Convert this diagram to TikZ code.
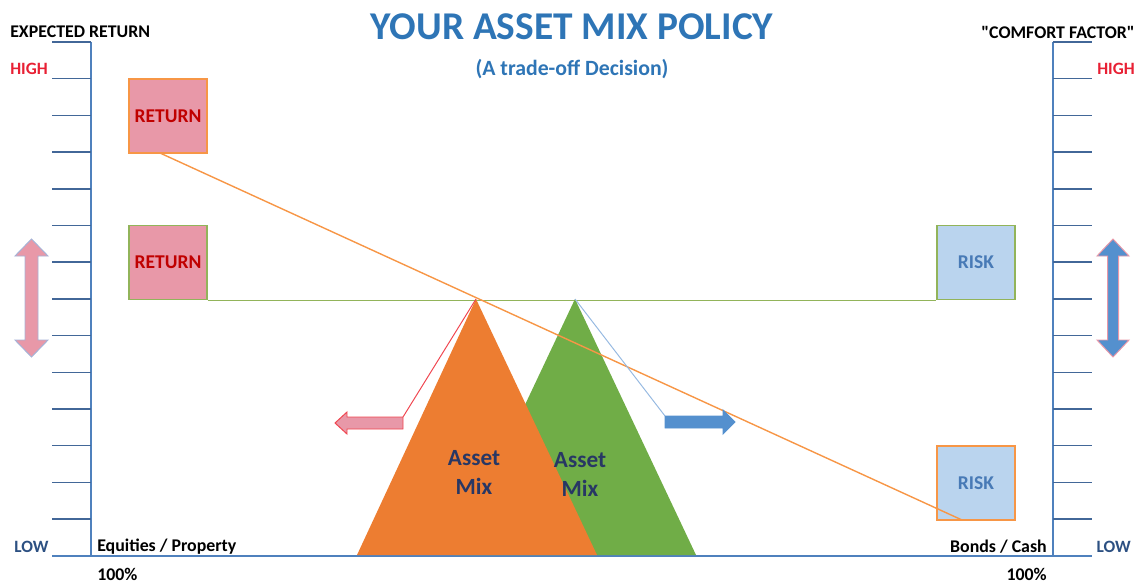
\documentclass[tikz,border=0pt]{standalone}
\usepackage{fontspec}
\setmainfont[Ligatures=TeXOff]{Carlito}
\usetikzlibrary{positioning}
\definecolor{axisblue}{RGB}{79,129,189}
\definecolor{tickblue}{RGB}{66,103,152}
\definecolor{titleblue}{RGB}{46,117,182}
\definecolor{lowblue}{RGB}{44,80,130}
\definecolor{highred}{RGB}{232,32,52}
\definecolor{retred}{RGB}{192,0,0}
\definecolor{pinkfill}{RGB}{232,152,168}
\definecolor{riskfill}{RGB}{186,212,238}
\definecolor{riskblue}{RGB}{72,122,182}
\definecolor{lineorange}{RGB}{247,150,70}
\definecolor{linegreen}{RGB}{146,180,90}
\definecolor{mixorange}{RGB}{237,125,49}
\definecolor{mixgreen}{RGB}{112,173,71}
\definecolor{mixnavy}{RGB}{40,55,100}
\definecolor{arrowblue}{RGB}{84,144,206}
\definecolor{arrowred}{RGB}{240,70,80}
\definecolor{lineblue}{RGB}{150,185,225}
\begin{document}
\begin{tikzpicture}
[
x=0.25mm, y=-0.25mm,
axislbl/.style={font=\fontsize{12.7}{14}\selectfont\bfseries, inner sep=0},
level/.style={font=\fontsize{12.3}{14}\selectfont\bfseries, inner sep=0},
box/.style={rectangle, minimum width=19.5mm, minimum height=18.5mm, line width=0.8pt, font=\fontsize{13.9}{16}\selectfont\bfseries},
retbox/.style={box, fill=pinkfill, text=retred},
riskbox/.style={box, fill=riskfill, text=riskblue},
mix/.style={align=center, text=mixnavy, font=\fontsize{16.5}{20.6}\selectfont\bfseries},
axis/.style={draw=axisblue, line width=1pt},
tickline/.style={draw=tickblue, line width=1.1pt}
]
\useasboundingbox (0,0) rectangle (1144,583);

%Axes
\draw[axis] (91,42) -- (91,556);
\draw[axis] (1053,42) -- (1053,556);
\draw[axis] (52,556) -- (1092,556);
\foreach \k in {0,...,13}
{
\draw[tickline] (52,42+36.7*\k) -- (91,42+36.7*\k);
\draw[tickline] (1053,42+36.7*\k) -- (1092,42+36.7*\k);
}

%Nodes
\node[font=\fontsize{28}{32}\selectfont\bfseries, text=titleblue] (title) at (572,27) {YOUR ASSET MIX POLICY};
\node[font=\fontsize{15.5}{18}\selectfont\bfseries, text=titleblue] (subtitle) at (572,69) {(A trade-off Decision)};
\node[axislbl, anchor=west] (yleft) at (10,32) {EXPECTED RETURN};
\node[axislbl, anchor=east] (yright) at (1135,32) {"COMFORT FACTOR"};
\node[level, text=highred, anchor=west] (highL) at (10,69) {HIGH};
\node[level, text=highred, anchor=east] (highR) at (1135,69) {HIGH};
\node[level, text=lowblue, anchor=west] (lowL) at (14,547) {LOW};
\node[level, text=lowblue, anchor=east] (lowR) at (1131,547) {LOW};
\node[axislbl, anchor=west] (equity) at (97,547) {Equities / Property};
\node[axislbl, anchor=east] (bonds) at (1047,547) {Bonds / Cash};
\node[axislbl, below=6.75mm of equity.west, anchor=west] (pctL) {100\%};
\node[axislbl, below=6.75mm of bonds.east, anchor=east] (pctR) {100\%};

\node[retbox, draw=lineorange] (rettop) at (168,116) {RETURN};
\node[retbox, draw=linegreen] (retmid) at (168,262.5) {RETURN};
\node[riskbox, draw=linegreen] (riskmid) at (976,262.5) {RISK};
\node[riskbox, draw=lineorange] (riskbot) at (976,483) {RISK};

%Balance
\coordinate (apexO) at (476,299);
\coordinate (apexG) at (575,299);
\coordinate (larrow) at (403,417);
\coordinate (rarrow) at (665,416);
\coordinate (tradeA) at (160,153);
\coordinate (tradeB) at (962,520);

\draw[linegreen, line width=0.8pt] (retmid.south east) -- (riskmid.south west);
\fill[mixgreen] (apexG) -- (696,555) -- (454,555) -- cycle;
\fill[mixorange] (apexO) -- (597,555) -- (357,555) -- cycle;
\node[mix] (mixO) at (474,472) {Asset\\Mix};
\node[mix] (mixG) at (580,474) {Asset\\Mix};

%Lines
\draw[lineorange, line width=1pt] (tradeA) -- (tradeB);
\draw[arrowred, line width=0.7pt] (apexO) -- (larrow);
\draw[lineblue, line width=0.7pt] (apexG) -- (rarrow);

%Arrows
\filldraw[fill=pinkfill, draw=arrowred, line width=0.7pt] (335,423) -- (347,412) -- (347,417) -- (larrow) -- (403,429) -- (347,429) -- (347,434) -- cycle;
\filldraw[fill=arrowblue, draw=arrowblue, line width=0.7pt] (rarrow) -- (723,416) -- (723,410) -- (735,422) -- (723,434) -- (723,428) -- (665,428) -- cycle;
\filldraw[fill=pinkfill, draw=lineblue!80!pinkfill, line width=0.7pt] (31.5,239) -- (48,256) -- (38,256) -- (38,340) -- (48,340) -- (31.5,357) -- (15,340) -- (25,340) -- (25,256) -- (15,256) -- cycle;
\filldraw[fill=arrowblue, draw=pinkfill, line width=0.7pt] (1113,239) -- (1129,256) -- (1118.5,256) -- (1118.5,340) -- (1129,340) -- (1113,357) -- (1097,340) -- (1107.5,340) -- (1107.5,256) -- (1097,256) -- cycle;

\end{tikzpicture}
\end{document}
